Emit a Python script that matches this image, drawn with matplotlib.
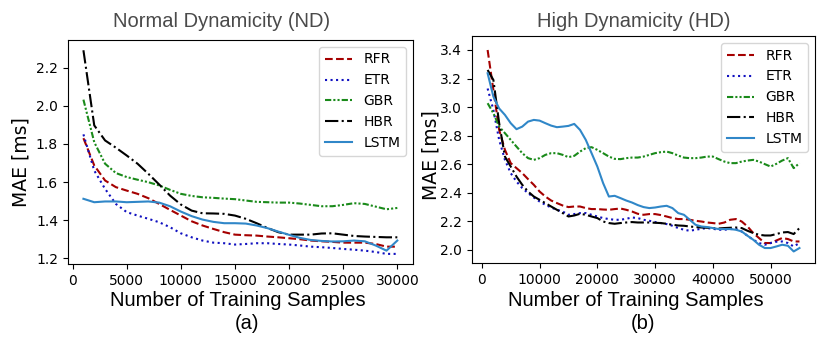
import numpy as np
import matplotlib
matplotlib.use("Agg")
import matplotlib.pyplot as plt

# ---- Normal Dynamicity (ND) ----
nd_x = list(range(1000, 30001, 1000))
nd_rfr = [1.83, 1.687, 1.608, 1.573, 1.555, 1.538, 1.515, 1.485, 1.454, 1.424,
          1.394, 1.372, 1.354, 1.337, 1.324, 1.321, 1.319, 1.314, 1.310, 1.305,
          1.300, 1.293, 1.289, 1.286, 1.282, 1.282, 1.282, 1.275, 1.261, 1.261]
nd_etr = [1.850, 1.660, 1.564, 1.485, 1.442, 1.424, 1.407, 1.389, 1.363, 1.331,
          1.310, 1.293, 1.282, 1.279, 1.272, 1.275, 1.279, 1.279, 1.275, 1.272,
          1.267, 1.261, 1.258, 1.254, 1.249, 1.245, 1.240, 1.233, 1.223, 1.223]
nd_gbr = [2.032, 1.809, 1.696, 1.647, 1.626, 1.612, 1.599, 1.582, 1.559, 1.538,
          1.527, 1.520, 1.517, 1.513, 1.510, 1.503, 1.496, 1.494, 1.492, 1.492,
          1.487, 1.480, 1.473, 1.473, 1.480, 1.489, 1.485, 1.471, 1.457, 1.464]
nd_hbr = [2.291, 1.897, 1.818, 1.780, 1.739, 1.696, 1.643, 1.587, 1.529, 1.482,
          1.450, 1.436, 1.435, 1.433, 1.424, 1.407, 1.384, 1.359, 1.337, 1.324,
          1.324, 1.324, 1.330, 1.331, 1.324, 1.317, 1.314, 1.312, 1.310, 1.310]
nd_lstm = [1.512, 1.494, 1.498, 1.498, 1.494, 1.496, 1.498, 1.492, 1.473, 1.445,
           1.421, 1.403, 1.391, 1.384, 1.384, 1.382, 1.372, 1.358, 1.340, 1.323,
           1.307, 1.296, 1.291, 1.288, 1.289, 1.293, 1.289, 1.267, 1.240, 1.293]

# ---- High Dynamicity (HD) ----
hd_x = list(range(1000, 55001, 1000))
hd_rfr = [3.40, 3.12, 2.84, 2.70, 2.607, 2.572, 2.537, 2.495, 2.455, 2.408,
          2.373, 2.345, 2.327, 2.310, 2.299, 2.303, 2.303, 2.292, 2.285, 2.285,
          2.282, 2.280, 2.285, 2.289, 2.280, 2.268, 2.252, 2.245, 2.250, 2.250,
          2.243, 2.233, 2.222, 2.215, 2.215, 2.210, 2.203, 2.198, 2.191, 2.187,
          2.182, 2.191, 2.210, 2.215, 2.198, 2.163, 2.117, 2.082, 2.047, 2.047,
          2.065, 2.082, 2.075, 2.058, 2.058]
hd_etr = [3.13, 2.98, 2.77, 2.63, 2.537, 2.478, 2.432, 2.397, 2.366, 2.338,
          2.315, 2.296, 2.280, 2.268, 2.245, 2.250, 2.257, 2.257, 2.245, 2.233,
          2.222, 2.215, 2.210, 2.210, 2.217, 2.226, 2.222, 2.210, 2.203, 2.194,
          2.187, 2.180, 2.168, 2.152, 2.140, 2.133, 2.140, 2.147, 2.152, 2.147,
          2.140, 2.140, 2.145, 2.145, 2.128, 2.098, 2.070, 2.047, 2.035, 2.047,
          2.056, 2.058, 2.047, 2.023, 2.047]
hd_gbr = [3.027, 2.957, 2.863, 2.817, 2.770, 2.723, 2.677, 2.642, 2.630, 2.642,
          2.665, 2.677, 2.677, 2.665, 2.649, 2.658, 2.688, 2.712, 2.719, 2.700,
          2.677, 2.653, 2.637, 2.635, 2.642, 2.646, 2.646, 2.653, 2.665, 2.677,
          2.684, 2.688, 2.677, 2.660, 2.646, 2.642, 2.642, 2.646, 2.653, 2.653,
          2.635, 2.618, 2.607, 2.607, 2.618, 2.625, 2.630, 2.618, 2.600, 2.583,
          2.602, 2.625, 2.642, 2.572, 2.607]
hd_hbr = [3.26, 3.19, 2.887, 2.653, 2.583, 2.513, 2.455, 2.408, 2.373, 2.350,
          2.327, 2.303, 2.280, 2.257, 2.233, 2.240, 2.252, 2.245, 2.233, 2.222,
          2.198, 2.187, 2.182, 2.187, 2.191, 2.194, 2.191, 2.191, 2.191, 2.189,
          2.187, 2.182, 2.175, 2.170, 2.168, 2.163, 2.159, 2.156, 2.154, 2.152,
          2.149, 2.152, 2.154, 2.156, 2.152, 2.133, 2.117, 2.105, 2.100, 2.100,
          2.110, 2.121, 2.124, 2.110, 2.152]
hd_lstm = [3.237, 3.073, 2.990, 2.945, 2.887, 2.845, 2.863, 2.898, 2.910, 2.905,
           2.887, 2.870, 2.859, 2.863, 2.868, 2.882, 2.840, 2.770, 2.677, 2.583,
           2.467, 2.373, 2.378, 2.362, 2.345, 2.331, 2.313, 2.299, 2.292, 2.296,
           2.303, 2.308, 2.292, 2.257, 2.245, 2.210, 2.175, 2.163, 2.159, 2.152,
           2.145, 2.145, 2.145, 2.140, 2.128, 2.098, 2.070, 2.035, 2.012, 2.012,
           2.023, 2.035, 2.028, 1.988, 2.012]

labels = ["RFR", "ETR", "GBR", "HBR", "LSTM"]
colors = ["#a50000", "#1010c0", "#1a8a1a", "black", "#3087c8"]
styles = ["--", ":", (0, (3, 1, 1, 1, 1, 1)), "-.", "-"]

fig = plt.figure(figsize=(8.3, 3.41), dpi=100)
ax1 = fig.add_axes([0.0816, 0.2258, 0.416, 0.657])
ax2 = fig.add_axes([0.5687, 0.2287, 0.4133, 0.6657])

for ax, x, series in [(ax1, nd_x, [nd_rfr, nd_etr, nd_gbr, nd_hbr, nd_lstm]),
                      (ax2, hd_x, [hd_rfr, hd_etr, hd_gbr, hd_hbr, hd_lstm])]:
    for y, lab, c, ls in zip(series, labels, colors, styles):
        ax.plot(x, y, linestyle=ls, color=c, linewidth=1.5, label=lab)
    ax.tick_params(labelsize=10)
    ax.legend(loc="upper right", fontsize=10)

ax1.set_ylim(1.17, 2.345)
ax1.set_yticks([1.2, 1.4, 1.6, 1.8, 2.0, 2.2])
ax1.set_xticks(np.arange(0, 30001, 5000))
ax2.set_ylim(1.907, 3.498)
ax2.set_yticks([2.0, 2.2, 2.4, 2.6, 2.8, 3.0, 3.2, 3.4])
ax2.set_xticks(np.arange(0, 50001, 10000))

W, H = 830.0, 341.0
hel = "Liberation Sans"
fig.text(222 / W, 1 - 27 / H, "Normal Dynamicity (ND)", family=hel, fontsize=14.5,
         color="#4a4a4a", ha="center", va="baseline")
fig.text(634 / W, 1 - 27 / H, "High Dynamicity (HD)", family=hel, fontsize=14.5,
         color="#4a4a4a", ha="center", va="baseline")
fig.text(238 / W, 1 - 306 / H, "Number of Training Samples", family=hel, fontsize=14.5,
         ha="center", va="baseline")
fig.text(636 / W, 1 - 306 / H, "Number of Training Samples", family=hel, fontsize=14.5,
         ha="center", va="baseline")
fig.text(247 / W, 1 - 329 / H, "(a)", family=hel, fontsize=14.5, ha="center", va="baseline")
fig.text(643 / W, 1 - 329 / H, "(b)", family=hel, fontsize=14.5, ha="center", va="baseline")
fig.text(21 / W, 1 - 162 / H, "MAE [ms]", fontsize=13.5, rotation=90, ha="center", va="center")
fig.text(431 / W, 1 - 155 / H, "MAE [ms]", fontsize=13.5, rotation=90, ha="center", va="center")

fig.savefig("out.png", dpi=100)
